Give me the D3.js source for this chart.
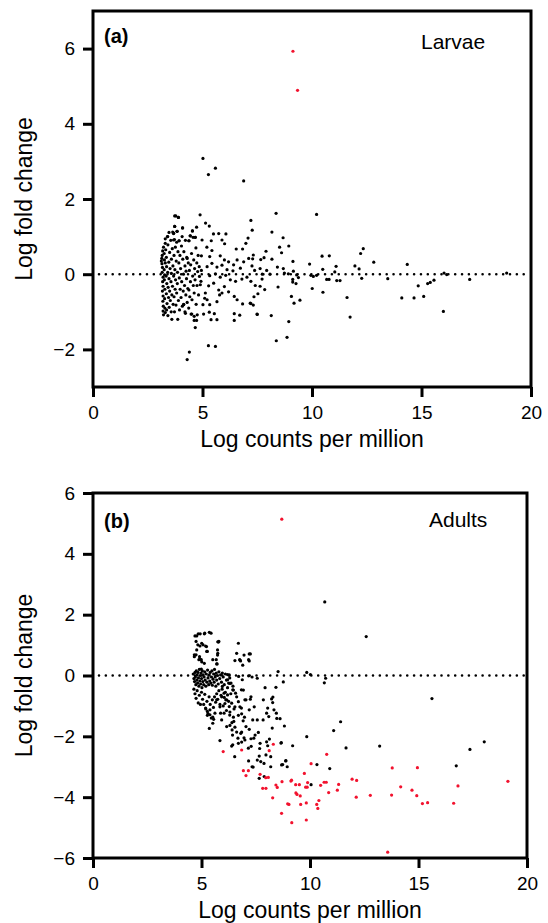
<!DOCTYPE html>
<html>
<head>
<meta charset="utf-8">
<script src="https://cdn.jsdelivr.net/npm/d3@7"></script>
<style>
body { margin: 0; background: #fff; }
svg text { font-family: "Liberation Sans", Arial, Helvetica, sans-serif; fill: #000; }
</style>
</head>
<body>
<svg id="chart" width="548" height="923"></svg>
<script>
var xTicks = [0, 5, 10, 15, 20];
var larvaeTicks = [-2, 0, 2, 4, 6];
var adultsTicks = [-6, -4, -2, 0, 2, 4, 6];

// larvae: [log cpm, log fold change]
var larvaeRed = [[9.13, 5.93], [9.34, 4.89]];
var larvaeBlack = [
  [5.02,3.08],[5.27,2.65],[5.59,2.82],[6.88,2.48],[3.73,1.55],[3.9,1.51],[4.89,1.58],[8.36,1.62],[10.21,1.59],
  [5.14,1.36],[5.31,1.28],[3.73,1.27],[3.84,1.14],[4.09,1.23],[3.47,1.11],[3.68,1.09],[4.73,1.25],[4.54,1.15],
  [5.5,1.07],[5.74,1.08],[6.07,1.07],[7.21,1.43],[7.27,1.17],[8.17,1.12],[8.68,0.97],[3.3,0.94],[3.41,1.0],
  [3.68,0.91],[3.93,0.89],[4.44,1.02],[4.67,0.98],[4.38,0.89],[4.98,0.91],[5.4,0.89],[5.89,0.91],[6.01,0.81],
  [6.98,0.82],[6.83,0.67],[7.08,0.96],[6.54,0.67],[8.94,0.75],[8.52,0.72],[8.61,0.57],[7.9,0.61],[7.32,0.51],
  [7.29,0.41],[7.81,0.44],[7.66,0.39],[8.17,0.4],[9.13,0.34],[9.89,0.27],[10.46,0.48],[10.79,0.49],[12.34,0.68],
  [12.22,0.55],[12.82,0.32],[14.35,0.26],[11.96,0.22],[12.15,0.14],[11.1,0.21],[10.49,0.13],[11.04,0.06],
  [8.42,0.19],[8.69,0.15],[7.63,0.15],[7.26,0.22],[7.38,0.1],[7.93,0.1],[8.08,0.0],[9.15,0.08],[8.92,0.01],
  [8.74,0.03],[9.3,-0.02],[9.38,-0.09],[7.73,0.0],[7.72,-0.13],[9.95,-0.03],[10.06,-0.06],[10.21,-0.03],
  [10.67,-0.14],[10.78,-0.14],[11.13,-0.17],[11.28,-0.17],[9.12,-0.14],[9.12,-0.21],[9.27,-0.25],[12.27,-0.11],
  [13.46,-0.12],[16.03,0.03],[16.15,-0.01],[17.2,-0.14],[18.89,0.03],[15.57,-0.16],[15.4,-0.22],[15.28,-0.25],
  [14.85,-0.31],[15.1,-0.59],[14.66,-0.63],[14.1,-0.63],[16.0,-0.99],[11.6,-0.62],[11.74,-1.14],[10.01,-0.38],
  [10.5,-0.48],[8.45,-0.34],[7.41,-0.3],[7.63,-0.32],[7.84,-0.41],[7.53,-0.52],[7.35,-0.6],[7.21,-0.78],
  [7.32,-0.82],[9.06,-0.59],[9.18,-0.77],[9.45,-0.69],[7.5,-1.07],[8.14,-1.1],[8.94,-1.26],[8.37,-1.77],[8.86,-1.68],
  [5.2,0.72],[5.43,0.63],[4.95,0.49],[5.33,0.47],[5.81,0.49],[6.0,0.38],[6.19,0.33],[6.42,0.25],[6.58,0.38],
  [6.88,0.33],[7.11,0.42],[6.73,0.16],[6.39,0.09],[5.21,0.2],[5.43,0.29],[5.66,0.19],[5.89,0.24],[6.12,0.12],
  [4.95,0.1],[5.33,-0.04],[5.59,0.01],[5.81,-0.08],[6.06,-0.03],[6.27,-0.15],[6.51,-0.19],[6.8,-0.13],[7.03,-0.08],
  [7.21,-0.19],[4.93,-0.19],[5.28,-0.31],[5.51,-0.24],[5.74,-0.42],[5.89,-0.5],[5.78,-0.55],[6.0,-0.33],
  [6.19,-0.47],[6.45,-0.59],[6.58,-0.68],[6.83,-0.79],[7.18,-0.77],[5.13,-0.5],[5.21,-0.68],[5.33,-0.81],
  [5.66,-0.73],[6.45,-1.05],[6.7,-1.09],[6.45,-1.23],[7.49,-1.06],[5.54,-1.05],[5.66,-1.21],[5.05,-1.06],
  [4.3,-2.27],[4.4,-2.07],[5.27,-1.9],[5.59,-1.92],[4.62,-1.23],[4.51,-1.06],[4.22,-1.04],[4.14,-0.81],
  [5.31,-1.01],[5.39,-1.21],[5.02,-0.81],[5.1,-0.64],[4.67,-1.42],[4.73,-1.23],
  [3.12,0.35],[3.14,0.42],[3.15,0.28],[3.16,0.5],[3.17,0.18],[3.18,0.62],[3.16,0.05],[3.2,-0.08],[3.18,-0.2],
  [3.2,-0.32],[3.17,-0.45],[3.2,-0.58],[3.19,-0.72],[3.21,-0.85],[3.2,-0.98],[3.22,-1.08],[3.22,0.72],[3.25,0.55],
  [3.26,0.38],[3.25,0.12],[3.27,-0.02],[3.26,-0.15],[3.28,-0.4],[3.27,-0.65],[3.28,-0.9],[3.3,-1.02],[3.3,0.3],
  [3.32,0.65],[3.3,0.82],[3.35,0.45],[3.36,0.2],[3.34,-0.05],[3.37,-0.25],[3.35,-0.52],[3.38,-0.78],[3.36,-0.95],
  [3.4,1.0],[3.42,0.78],[3.41,0.05],[3.43,-0.35],[3.45,-0.62],[3.42,-1.1],[3.46,0.32],[3.47,-0.12],[3.48,-0.88],
  [3.5,0.58],[3.5,-0.45],[3.52,0.15],[3.53,-0.7],[3.55,0.9],[3.56,-0.2],[3.57,-1.0],[3.58,0.4],[3.6,-0.55],
  [3.6,-1.2],[3.58,0.02],[3.62,0.68],[3.63,-0.32],[3.64,1.12],[3.65,0.22],[3.66,-0.8],[3.68,1.08],[3.68,-0.05],
  [3.7,0.5],[3.7,-0.6],[3.72,0.92],[3.73,1.27],[3.72,-1.0],[3.74,0.12],[3.75,-0.4],[3.76,0.72],[3.77,-0.15],
  [3.78,1.55],[3.79,-0.82],[3.8,0.35],[3.82,-0.5],[3.82,0.85],[3.84,1.14],[3.85,-0.25],[3.86,0.05],[3.87,-1.2],
  [3.88,0.6],[3.9,-0.7],[3.9,1.51],[3.92,0.3],[3.93,0.89],[3.94,-0.1],[3.95,-0.95],[3.97,0.5],[3.98,-0.4],
  [4.0,0.15],[4.02,-0.62],[4.04,0.75],[4.05,-0.2],[4.07,1.0],[4.08,-0.85],[4.09,1.23],[4.1,0.4],[4.12,-0.45],
  [4.13,0.0],[4.14,-0.8],[4.15,0.6],[4.18,-0.3],[4.2,0.22],[4.2,-1.0],[4.22,0.9],[4.24,-0.55],[4.25,0.08],
  [4.27,-0.12],[4.28,0.45],[4.3,-0.75],[4.3,0.42],[4.33,-0.38],[4.35,0.3],[4.37,-0.9],[4.38,0.89],[4.38,-0.42],
  [4.4,0.1],[4.42,-0.6],[4.44,1.02],[4.45,-0.2],[4.46,0.25],[4.48,-1.06],[4.5,0.55],[4.52,-0.68],[4.54,1.15],
  [4.55,-0.05],[4.57,0.98],[4.58,-0.3],[4.6,0.38],[4.62,-0.5],[4.62,-1.12],[4.64,0.15],[4.66,-0.15],[4.67,0.98],
  [4.7,0.7],[4.71,-0.8],[4.74,0.3],[4.75,-0.3],[4.76,-1.08],[4.78,0.07],[4.8,0.5],[4.82,-0.55],[4.85,0.2],
  [4.86,-0.06],[4.9,-0.28]
];

// adults
var adultsRed = [
  [8.7,5.14],[6.0,-2.5],[6.85,-2.45],[8.31,-2.26],[8.12,-2.47],[6.93,-3.13],[7.16,-3.13],[7.05,-3.29],[7.7,-3.25],
  [7.96,-3.36],[8.08,-3.35],[7.82,-3.71],[7.97,-3.71],[8.43,-3.6],[8.49,-3.68],[8.71,-3.49],[8.28,-4.02],[8.69,-4.53],
  [9.16,-4.84],[10.77,-2.59],[10.05,-2.9],[9.74,-3.22],[13.79,-3.04],[14.95,-3.03],[9.12,-3.47],[9.15,-3.44],
  [9.34,-3.59],[9.51,-3.59],[9.89,-3.52],[9.87,-3.67],[9.8,-3.67],[10.49,-3.61],[10.65,-3.51],[10.75,-3.51],
  [11.32,-3.58],[11.94,-3.41],[12.15,-3.45],[14.18,-3.66],[14.7,-3.77],[16.82,-3.63],[19.12,-3.48],[9.35,-3.86],
  [9.4,-3.91],[9.55,-3.96],[10.41,-4.11],[10.31,-4.24],[10.36,-4.37],[8.97,-4.22],[9.03,-4.24],[9.57,-4.24],
  [9.83,-4.19],[10.86,-3.85],[11.26,-3.77],[12.13,-4.0],[12.78,-3.94],[13.76,-3.93],[14.92,-3.95],[15.18,-4.21],
  [15.42,-4.18],[16.62,-4.2],[9.83,-4.75],[13.58,-5.81]
];
var adultsBlack = [
  [10.68,2.42],[12.59,1.28],[15.62,-0.76],[11.41,-1.52],[11.09,-1.81],[9.85,-2.01],[11.66,-2.38],[13.21,-2.32],
  [9.2,-2.31],[17.37,-2.43],[18.03,-2.18],[16.74,-2.97],[10.32,-2.93],[10.91,-3.06],[10.05,-3.59],[8.89,-2.8],
  [8.74,-2.93],[8.95,-3.0],[8.62,-1.42],[8.82,-1.66],[8.66,-2.22],[8.77,-0.21],[9.85,0.1],[10.02,0.03],
  [10.66,-0.24],[10.72,-0.09],[8.53,0.13],[8.43,-0.39],[7.93,-0.4],
  [5.36,1.42],[5.75,1.11],[6.7,1.06],[6.62,0.73],[6.96,0.67],[7.2,0.71],[7.2,0.48],[6.8,0.48],[6.54,0.49],
  [7.85,-0.8],[8.23,-0.77],[8.28,-0.89],[8.34,-1.13],[8.47,-1.41],[8.0,-1.24],[7.57,-1.46],[7.36,-1.46],
  [7.2,-1.77],[7.47,-1.96],[7.7,-2.23],[8.0,-2.18],[8.68,-2.21],[7.66,-2.65],[7.57,-2.78],[7.88,-2.89],
  [7.33,-3.0],[7.66,-3.38],[8.19,-3.0],[8.69,-2.94],[8.88,-2.81],[8.19,-2.67],[6.53,-2.67],[5.85,-2.14],
  [5.36,-1.74],[6.39,-2.32],[6.7,-2.23],[7.0,-2.12],[7.16,-2.39],
  [6.31,-0.26],[6.47,-0.48],[6.62,-0.7],[6.7,-0.86],[6.77,-1.03],[6.54,-1.03],[6.31,-1.2],[6.47,-1.37],
  [6.7,-1.31],[6.85,-1.26],[6.31,-1.64],[6.54,-1.7],[6.62,-1.86],[6.85,-1.86],[6.96,-2.05],[6.43,-1.96],
  [6.16,-1.68],[5.93,-1.46],[5.62,-1.24],[5.39,-1.13],[5.27,-1.31],[5.52,-1.37],[5.85,-1.03],[6.08,-0.92],
  [5.7,-0.8],[5.93,-0.7],[6.16,-0.8],[6.93,-0.48],[7.05,-0.8],[7.28,-0.7],[7.43,-1.03],[7.2,-1.13],
  [6.98,-1.37],[7.05,-1.68],[7.28,-2.08],[6.85,-2.19],
  [8.29,-0.71],[8.45,-1.24],[8.26,-1.73],[8.05,-1.07],[8.1,-1.35],[8.13,-2.09],[8.05,-2.31],[7.97,-2.61],
  [7.89,-3.32],[7.73,-2.83],[7.68,-2.4],[7.62,-1.87],[7.84,-1.46],[7.41,-2.06],[7.29,-2.33],[7.38,-3.01],
  [7.17,-2.81],[7.25,-0.78],[7.0,-0.8],[7.17,0.52],[7.25,0.71],[6.76,0.52],[6.71,-0.03],[6.88,-0.14],
  [7.17,-0.01],[7.33,-0.05],[7.57,-0.09],[6.84,-0.47],[6.84,-1.07],[6.92,-1.49],[6.81,-1.9],[6.68,-2.06],
  [6.44,-2.28],[6.41,-1.79],[6.49,-1.51],[6.28,-1.02],[6.39,-0.91],[6.57,-0.58],[6.44,-0.47],[6.2,-0.14],
  [6.28,0.02],[6.36,-0.25],[6.2,-0.64],[6.12,-0.8],[6.04,-1.24],[5.88,-1.24],[6.04,-0.58],[5.96,-0.36],
  [5.8,1.12],[5.75,0.73],[5.68,0.52],[5.72,0.38],[5.52,0.52],[5.44,1.39],[5.15,1.39],[5.23,0.95],[5.27,0.79],
  [5.07,1.01],[4.94,1.37],[4.78,1.3],[4.75,1.12],[4.83,1.01],[4.88,0.52],[4.91,0.62],[4.99,0.52],[4.75,0.68],
  [4.67,0.68],[4.99,0.21],[5.52,-1.57],[5.56,-1.44],[5.39,-1.29],[5.27,-1.18],[5.19,-1.07],
  [4.7,1.3],[4.85,1.37],[5.13,1.37],[5.01,1.06],[4.93,0.97],[5.19,0.97],[5.78,1.1],[4.78,0.84],[5.24,0.79],
  [5.74,0.84],[4.67,0.62],[4.93,0.53],[5.01,0.45],[5.13,0.4],[5.74,0.67],[5.7,0.38],[6.77,0.51],[6.9,0.34],
  [4.62,0.05],[4.65,-0.1],[4.68,-0.2],[4.7,0.1],[4.72,-0.05],[4.74,-0.3],[4.76,0.15],[4.78,-0.15],[4.8,0.02],
  [4.82,-0.25],[4.84,0.1],[4.86,-0.08],[4.88,-0.35],[4.9,0.2],[4.92,-0.18],[4.94,0.0],[4.96,-0.28],[4.98,0.08],
  [5.0,-0.1],[5.02,-0.4],[5.04,0.15],[5.06,-0.2],[5.08,0.02],[5.1,-0.3],[5.12,-0.05],[5.15,0.12],[5.17,-0.15],
  [5.2,-0.35],[5.22,0.05],[5.25,-0.22],[5.28,0.18],[5.3,-0.08],[5.33,-0.3],[5.36,0.02],[5.38,-0.18],[5.4,0.1],
  [5.43,-0.25],[5.46,-0.05],[5.48,0.15],[5.5,-0.32],[5.53,-0.12],[5.56,0.05],[5.58,-0.22],[5.6,0.2],[5.63,-0.05],
  [5.66,-0.35],[5.68,0.08],[5.7,-0.15],[5.74,0.0],[5.77,-0.28],[5.8,0.12],[5.84,-0.1],[5.88,0.02],[5.92,-0.22],
  [5.96,0.08],[6.0,-0.05],[6.05,-0.3],[6.1,0.05],[6.15,-0.15],[6.2,0.03],[6.25,-0.25],[6.3,-0.08],
  [4.65,-0.45],[4.7,-0.6],[4.75,-0.75],[4.8,-0.5],[4.85,-0.9],[4.9,-0.65],[4.95,-0.95],[5.0,-0.55],[5.05,-0.78],
  [5.1,-0.95],[5.15,-0.62],[5.2,-1.1],[5.25,-0.85],[5.3,-1.25],[5.35,-0.7],[5.4,-0.95],[5.45,-1.4],[5.5,-0.8],
  [5.55,-1.05],[5.6,-0.7],[5.65,-0.88],[5.7,-0.6],[5.75,-0.78],[5.8,-0.5],[5.85,-0.95],[5.9,-0.65],[5.95,-0.45],
  [6.0,-1.0],[6.05,-0.72],[6.1,-0.55],[6.15,-1.15],[6.2,-0.4],[6.25,-0.85],[6.3,-1.3],[6.35,-0.6],[6.4,-1.55],
  [6.45,-0.35],[6.5,-1.1]
];

var svg = d3.select('#chart');
var red = '#f2122e';
var dotR = 1.6;

function drawPanel(p) {
    var g = svg.append('g');
    var x = d3.scaleLinear().domain([0, 20]).range([p.left, p.right]);
    var y = d3.scaleLinear().domain(p.yDomain).range([p.bottom, p.top]);

    // dotted zero line
    g.append('line')
        .attr('x1', p.left + 6).attr('x2', p.right - 3)
        .attr('y1', y(0)).attr('y2', y(0))
        .style('stroke', '#000')
        .style('stroke-width', 2.6)
        .style('stroke-linecap', 'round')
        .style('stroke-dasharray', '0,6.85');

    g.selectAll('circle.black').data(p.black).enter().append('circle')
        .attr('class', 'black')
        .attr('cx', function(d) { return x(d[0]); })
        .attr('cy', function(d) { return y(d[1]); })
        .attr('r', dotR)
        .style('fill', '#000');
    g.selectAll('circle.red').data(p.red).enter().append('circle')
        .attr('class', 'red')
        .attr('cx', function(d) { return x(d[0]); })
        .attr('cy', function(d) { return y(d[1]); })
        .attr('r', dotR)
        .style('fill', red);

    g.append('rect')
        .attr('x', p.left).attr('y', p.top)
        .attr('width', p.right - p.left).attr('height', p.bottom - p.top)
        .style('fill', 'none').style('stroke', '#000').style('stroke-width', 3);

    var gx = g.append('g').attr('transform', 'translate(0,' + p.bottom + ')')
        .call(d3.axisBottom(x).tickValues(xTicks).tickSize(10).tickSizeOuter(0).tickPadding(8.5));
    var gy = g.append('g').attr('transform', 'translate(' + p.left + ',0)')
        .call(d3.axisLeft(y).tickValues(p.yTicks).tickSize(10).tickSizeOuter(0).tickPadding(8));
    [gx, gy].forEach(function(a) {
        a.select('.domain').remove();
        a.selectAll('line').style('stroke', '#000').style('stroke-width', 3);
        a.selectAll('text').style('font-size', '19px').style('fill', '#000')
            .style('font-family', '"Liberation Sans", Arial, sans-serif');
    });

    g.append('text')
        .attr('x', (p.left + p.right) / 2).attr('y', p.bottom + 60)
        .attr('text-anchor', 'middle').style('font-size', '23px')
        .text('Log counts per million');
    g.append('text')
        .attr('transform', 'translate(31.5,' + ((p.top + p.bottom) / 2) + ') rotate(-90)')
        .attr('text-anchor', 'middle').style('font-size', '23px')
        .text('Log fold change');
    g.append('text')
        .attr('x', 104).attr('y', p.top + p.tagDy)
        .style('font-size', '20px').style('font-weight', 'bold')
        .text(p.tag);
    g.append('text')
        .attr('x', p.nameX).attr('y', p.top + p.nameDy)
        .style('font-size', '21px')
        .text(p.name);
}

drawPanel({
    left: 93, right: 531, top: 11, bottom: 387,
    yDomain: [-3, 7], yTicks: larvaeTicks,
    black: larvaeBlack, red: larvaeRed,
    tag: '(a)', tagDy: 32, name: 'Larvae', nameX: 421, nameDy: 37.5
});
drawPanel({
    left: 93, right: 527, top: 493, bottom: 858,
    yDomain: [-6, 6], yTicks: adultsTicks,
    black: adultsBlack, red: adultsRed,
    tag: '(b)', tagDy: 35, name: 'Adults', nameX: 429, nameDy: 34
});
</script>
</body>
</html>
